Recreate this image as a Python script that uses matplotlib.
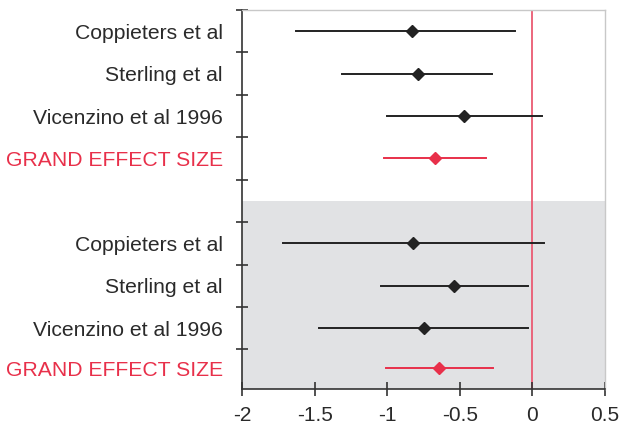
import matplotlib
matplotlib.use('Agg')
import matplotlib.pyplot as plt

# Datos (tamano de efecto y su intervalo)
etiquetas = ['Coppieters et al', 'Sterling et al', 'Vicenzino et al 1996', 'GRAND EFFECT SIZE',
             'Coppieters et al', 'Sterling et al', 'Vicenzino et al 1996', 'GRAND EFFECT SIZE']
filas = [0.5, 1.5, 2.5, 3.5, 5.5, 6.5, 7.5, 8.45]
efecto = [-0.83, -0.79, -0.47, -0.67, -0.82, -0.54, -0.75, -0.64]
ic_bajo = [-1.63, -1.31, -1.00, -1.02, -1.72, -1.04, -1.47, -1.01]
ic_alto = [-0.12, -0.28, 0.07, -0.32, 0.08, -0.03, -0.03, -0.27]
es_total = [False, False, False, True, False, False, False, True]

rojo = '#e8304a'
gris_texto = '#2a2a2a'

plt.rcParams['font.family'] = ['Liberation Sans', 'DejaVu Sans']

fig = plt.figure(figsize=(6.21, 4.34), dpi=100)
ax = fig.add_axes([0.39, 0.104, 0.584, 0.873])

# Fondo gris del segundo grupo
ax.axhspan(4.5, 9.0, color='#e1e2e4', zorder=0, lw=0)
ax.axvline(0, color='#ea5a72', lw=1.3, zorder=1)

for y, e, lo, hi, total in zip(filas, efecto, ic_bajo, ic_alto, es_total):
    c = rojo if total else '#222222'
    ax.plot([lo, hi], [y, y], color=c, lw=1.4, zorder=2)
    ax.plot(e, y, marker='D', color=c, markersize=6.5, zorder=3)

ax.set_xlim(-2, 0.5)
ax.set_ylim(8.93, 0)
ax.set_xticks([-2, -1.5, -1, -0.5, 0, 0.5])
ax.set_xticklabels(['-2', '-1.5', '-1', '-0.5', '0', '0.5'])
ax.set_yticks(range(9))
ax.set_yticklabels([])
ax.set_yticks(filas, minor=True)
ax.set_yticklabels(etiquetas, minor=True)
for lab, total in zip(ax.get_yticklabels(minor=True), es_total):
    if total:
        lab.set_color(rojo)
        lab.set_fontsize(13.8)
    else:
        lab.set_color(gris_texto)

ax.tick_params(axis='y', which='minor', length=0, pad=14, labelsize=15.2)
ax.tick_params(axis='y', which='major', direction='inout', length=9, width=1.2, color='#333333')
ax.tick_params(axis='x', direction='inout', length=10, width=1.2, color='#333333',
               labelsize=15, labelcolor=gris_texto, pad=7)

for lado in ['left', 'bottom']:
    ax.spines[lado].set_color('#333333')
    ax.spines[lado].set_linewidth(1.2)
for lado in ['top', 'right']:
    ax.spines[lado].set_color('#c8c8c8')
    ax.spines[lado].set_linewidth(1.0)

fig.savefig('out.png', dpi=100)
